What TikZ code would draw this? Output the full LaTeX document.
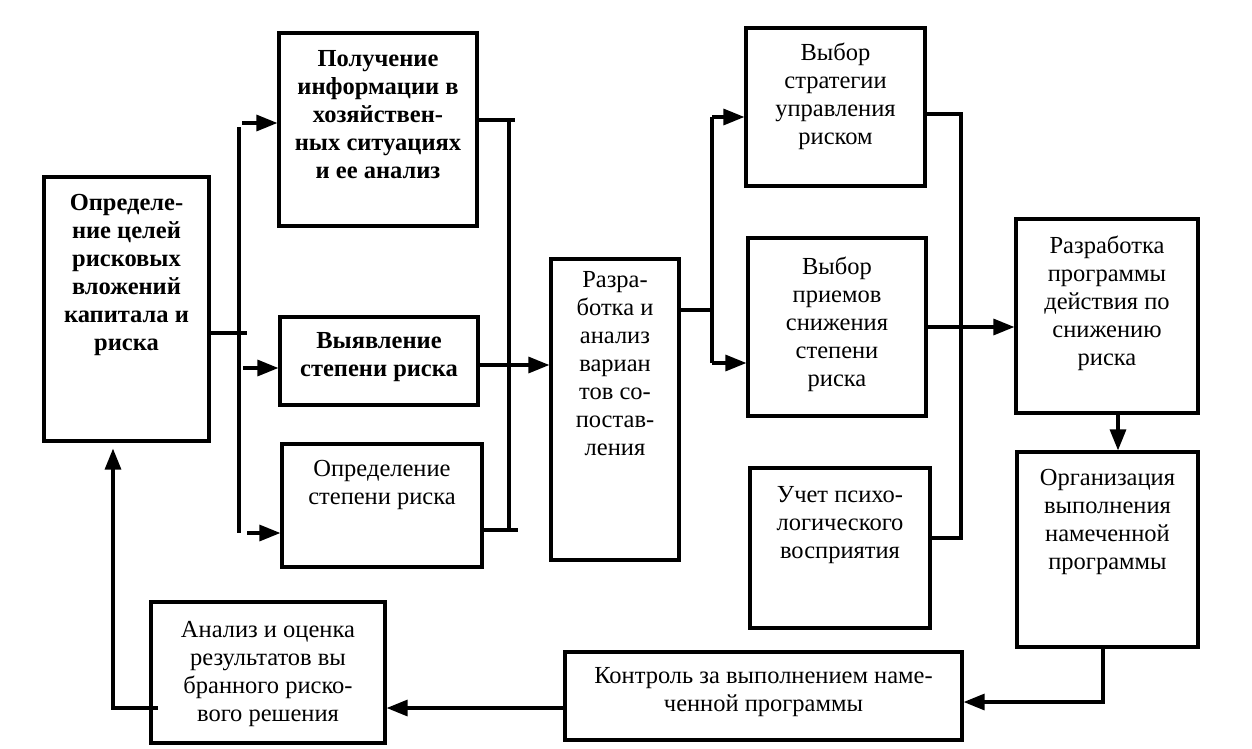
\documentclass[tikz,border=0pt]{standalone}
\usepackage{fontspec}
\setmainfont{Liberation Serif}
\usetikzlibrary{arrows.meta}
\begin{document}
\begin{tikzpicture}[x=1pt,y=-1pt,
  box/.style={draw, line width=3.2pt, inner sep=0pt},
  txt/.style={anchor=north, align=center, inner sep=0pt, font=\fontsize{24.5}{28}\selectfont},
  btxt/.style={txt, font=\fontsize{24.5}{28}\selectfont\bfseries},
  ln/.style={line width=3.2pt},
  arr/.style={line width=3.2pt, -{Triangle[length=21pt,width=16pt]}}]
\useasboundingbox (0,0) rectangle (1252,748);
\fill[white] (0,0) rectangle (1252,748);
% boxes
\node[box, minimum width=165pt, minimum height=264pt] (A) at (126.5,309) {};
\node[box, minimum width=198pt, minimum height=193pt] (B) at (378,129.5) {};
\node[box, minimum width=198pt, minimum height=88pt] (C) at (379,361) {};
\node[box, minimum width=200pt, minimum height=123pt] (D) at (382,505.5) {};
\node[box, minimum width=128pt, minimum height=301pt] (E) at (615,409.5) {};
\node[box, minimum width=179pt, minimum height=158pt] (F) at (835.5,107) {};
\node[box, minimum width=178pt, minimum height=178pt] (G) at (837,327) {};
\node[box, minimum width=180pt, minimum height=160pt] (H) at (840,548) {};
\node[box, minimum width=182pt, minimum height=194pt] (N) at (1107,316) {};
\node[box, minimum width=181pt, minimum height=195pt] (M) at (1107.5,549.5) {};
\node[box, minimum width=397pt, minimum height=88pt] (K) at (763.5,696) {};
\node[box, minimum width=234pt, minimum height=141pt] (L) at (268,672.5) {};
% texts
\node[btxt] (At) at (126.5,194) {Определе-\\ние целей\\рисковых\\вложений\\капитала и\\риска};
\node[btxt] (Bt) at (378,50) {Получение\\информации в\\хозяйствен-\\ных ситуациях\\и ее анализ};
\node[btxt] (Ct) at (379,332) {Выявление\\степени риска};
\node[txt] (Dt) at (382,460) {Определение\\степени риска};
\node[txt] (Et) at (615,271) {Разра-\\ботка и\\анализ\\вариан\\тов со-\\постав-\\ления};
\node[txt] (Ft) at (835.5,43) {Выбор\\стратегии\\управления\\риском};
\node[txt] (Gt) at (837,257) {Выбор\\приемов\\снижения\\степени\\риска};
\node[txt] (Ht) at (840,486) {Учет психо-\\логического\\восприятия};
\node[txt] (Nt) at (1107,236) {Разработка\\программы\\действия по\\снижению\\риска};
\node[txt] (Mt) at (1107.5,469) {Организация\\выполнения\\намеченной\\программы};
\node[txt] (Kt) at (763.5,667) {Контроль за выполнением наме-\\ченной программы};
\node[txt] (Lt) at (268,621) {Анализ и оценка\\результатов вы\\бранного риско-\\вого решения};
% junction coordinates
\coordinate (j1a) at (247,333);
\coordinate (b1t) at (239,127);
\coordinate (b1b) at (239,533);
\coordinate (pB) at (242,123);
\coordinate (pC) at (243,368);
\coordinate (pD) at (247,533);
\coordinate (b2t) at (509,120);
\coordinate (b2b) at (509,530);
\coordinate (eB) at (515,120);
\coordinate (eD) at (518,530);
\coordinate (pE) at (479,365);
\coordinate (b3t) at (712,117);
\coordinate (b3b) at (712,363);
\coordinate (pEo) at (679,310);
\coordinate (b4t) at (961,114);
\coordinate (b4b) at (961,538);
\coordinate (pG) at (926,327);
\coordinate (pN) at (1118,413);
\coordinate (pM) at (1103,647);
\coordinate (kM) at (1103,702);
\coordinate (pK) at (565,708);
\coordinate (lA) at (158,708);
\coordinate (cA) at (113,708);
% left bus
\draw[ln] (A.east |- j1a) -- (j1a);
\draw[ln] (b1t) -- (b1b);
\draw[arr] (pB) -- (B.west |- pB);
\draw[arr] (pC) -- (C.west |- pC);
\draw[arr] (pD) -- (D.west |- pD);
% second bus
\draw[ln] (B.east |- eB) -- (eB);
\draw[ln] (D.east |- eD) -- (eD);
\draw[ln] (b2t) -- (b2b);
\draw[arr] (C.east |- pE) -- (E.west |- pE);
% third bus
\draw[ln] (E.east |- pEo) -- (b3t |- pEo);
\draw[ln] (b3t) -- (b3b);
\draw[arr] (b3t) -- (F.west |- b3t);
\draw[arr] (b3b) -- (G.west |- b3b);
% fourth bus
\draw[ln] (F.east |- b4t) -- (b4t) -- (b4b) -- (H.east |- b4b);
\draw[arr] (G.east |- pG) -- (N.west |- pG);
% right column and loop
\draw[arr] (N.south -| pN) -- (M.north -| pN);
\draw[arr] (M.south -| pM) -- (kM) -- (K.east |- kM);
\draw[arr] (K.west |- pK) -- (L.east |- pK);
\draw[arr, shorten >=6pt] (lA) -- (cA) -- (A.south -| cA);
\end{tikzpicture}
\end{document}
